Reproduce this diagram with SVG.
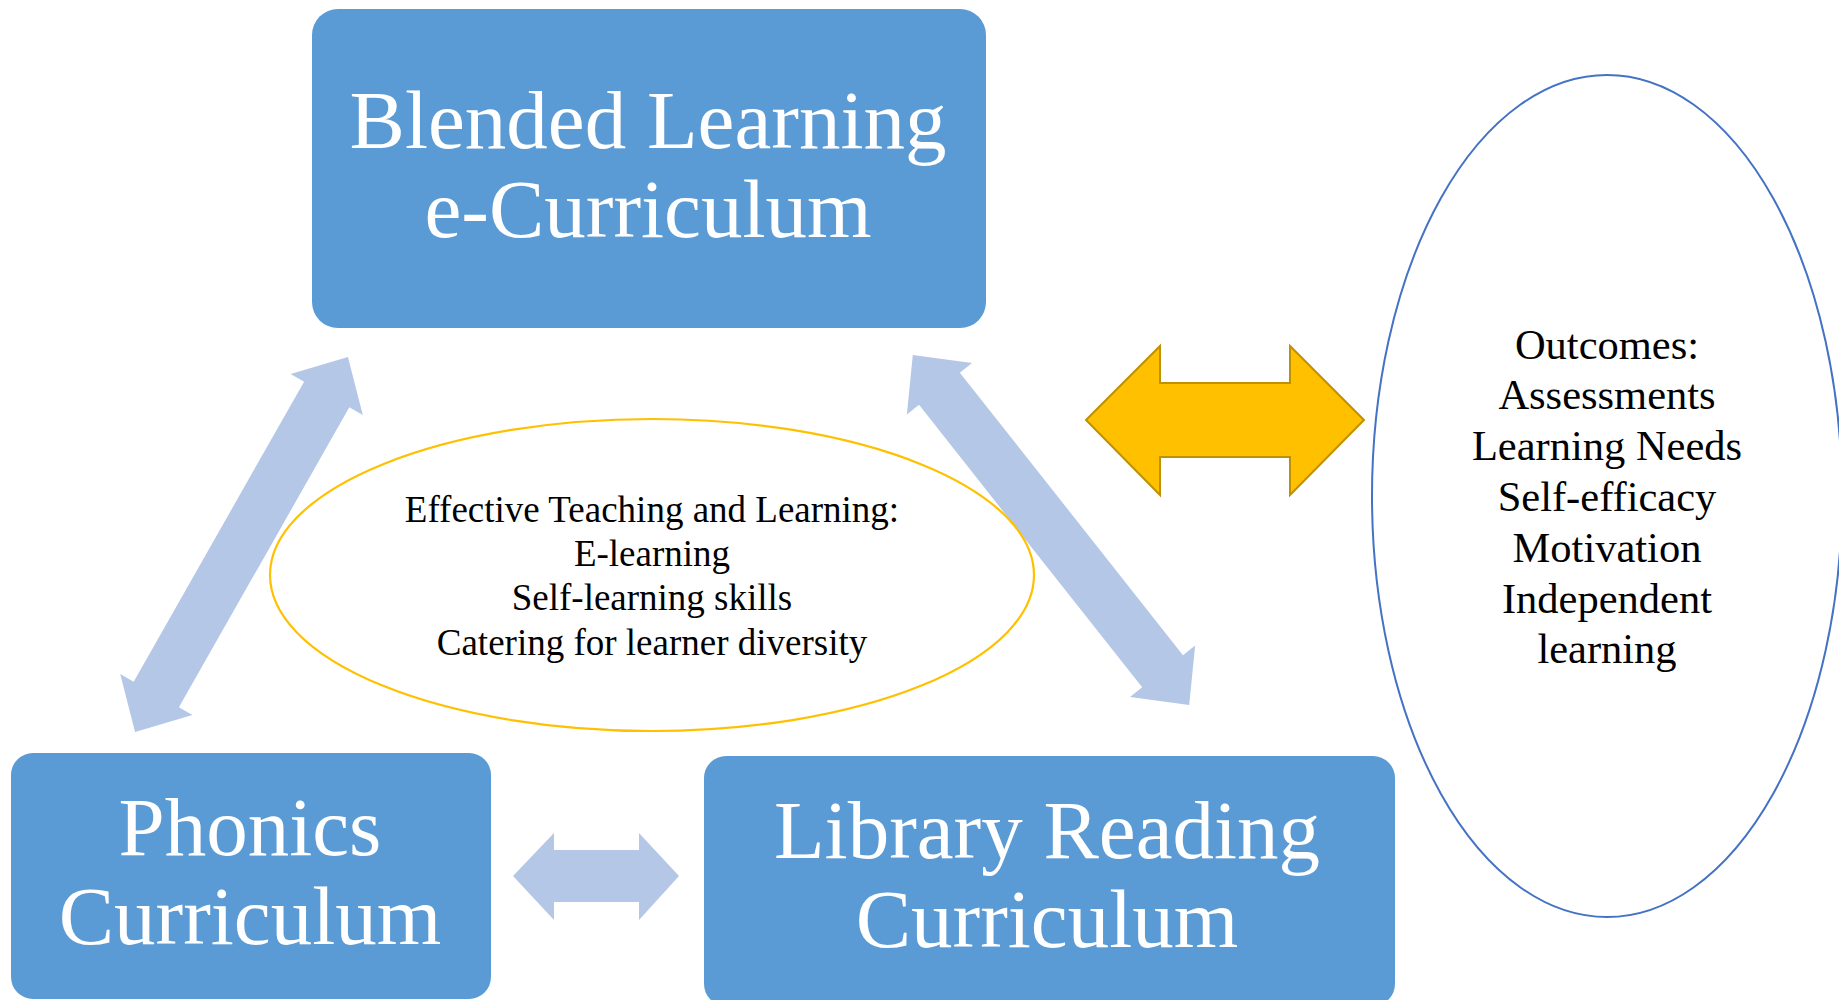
<svg xmlns="http://www.w3.org/2000/svg" width="1839" height="1000" viewBox="0 0 1839 1000">
<style>
.box{fill:#5B9BD5;}
.boxtxt{font-family:"Liberation Serif","Times New Roman",serif;font-size:83px;fill:#FFFFFF;text-anchor:middle;}
.txt{font-family:"Liberation Serif","Times New Roman",serif;fill:#000000;text-anchor:middle;}
.conn{fill:#B4C7E7;}
</style>
<rect width="1839" height="1000" fill="#FFFFFF"/>
<g id="connectors">
<path class="conn" transform="translate(241.5,544.5) rotate(-60.4)" d="M -215.5,0 L -172.5,-41.5 L -172.5,-26 L 172.5,-26 L 172.5,-41.5 L 215.5,0 L 172.5,41.5 L 172.5,26 L -172.5,26 L -172.5,41.5 Z"/>
<path class="conn" transform="translate(1051,530) rotate(51.7)" d="M -223,0 L -180,-41.5 L -180,-26 L 180,-26 L 180,-41.5 L 223,0 L 180,41.5 L 180,26 L -180,26 L -180,41.5 Z"/>
<path class="conn" d="M 513,876 L 554,833 L 554,850 L 639,850 L 639,833 L 679,876 L 639,920 L 639,902 L 554,902 L 554,920 Z"/>
<path d="M 1086,420 L 1160,346 L 1160,383 L 1290,383 L 1290,346 L 1364,420 L 1290,495 L 1290,457 L 1160,457 L 1160,495 Z" fill="#FFC000" stroke="#BF9000" stroke-width="2"/>
</g>
<g id="blended">
<rect class="box" x="312" y="9" width="674" height="319" rx="26"/>
<text class="boxtxt" x="648" y="148">Blended Learning</text>
<text class="boxtxt" x="648" y="237">e-Curriculum</text>
</g>
<g id="phonics">
<rect class="box" x="11" y="753" width="480" height="246" rx="22"/>
<text class="boxtxt" x="250" y="855">Phonics</text>
<text class="boxtxt" x="250" y="944">Curriculum</text>
</g>
<g id="library">
<rect class="box" x="704" y="756" width="691" height="250" rx="22"/>
<text class="boxtxt" x="1047" y="858">Library Reading</text>
<text class="boxtxt" x="1047" y="947">Curriculum</text>
</g>
<g id="effective">
<ellipse cx="652" cy="575" rx="382" ry="156" fill="none" stroke="#FFC000" stroke-width="2.2"/>
<text class="txt" x="652" y="522" font-size="37">Effective Teaching and Learning:</text>
<text class="txt" x="652" y="566" font-size="37">E-learning</text>
<text class="txt" x="652" y="610" font-size="37">Self-learning skills</text>
<text class="txt" x="652" y="655" font-size="37">Catering for learner diversity</text>
</g>
<g id="outcomes">
<ellipse cx="1607" cy="496" rx="235" ry="421" fill="none" stroke="#4472C4" stroke-width="2"/>
<text class="txt" x="1607" y="359" font-size="42.5">Outcomes:</text>
<text class="txt" x="1607" y="409" font-size="42.5">Assessments</text>
<text class="txt" x="1607" y="460" font-size="42.5">Learning Needs</text>
<text class="txt" x="1607" y="511" font-size="42.5">Self-efficacy</text>
<text class="txt" x="1607" y="562" font-size="42.5">Motivation</text>
<text class="txt" x="1607" y="613" font-size="42.5">Independent</text>
<text class="txt" x="1607" y="663" font-size="42.5">learning</text>
</g>
</svg>
